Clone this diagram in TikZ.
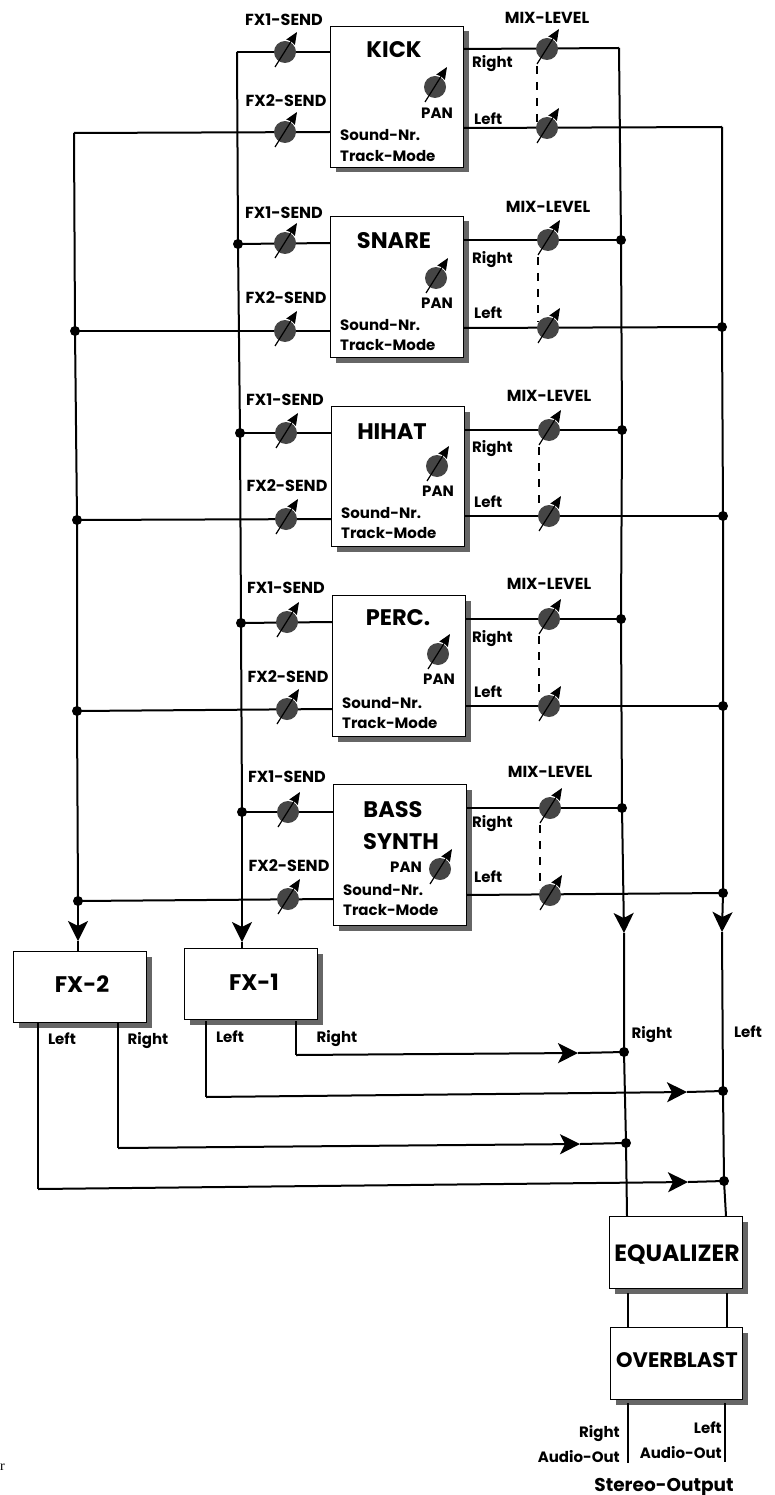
\documentclass[tikz,border=0pt]{standalone}
\usepackage{fontspec}
\setmainfont{Poppins}
\newfontfamily\stray{Liberation Serif}
\usetikzlibrary{arrows.meta,shadows}
\definecolor{knobgray}{gray}{0.27}
\tikzset{
  x=1pt,y=-1pt,
  wire/.style={line width=2pt,line join=miter},
  flow/.style={wire,-{Stealth[length=20pt,width=20pt,inset=5pt]}},
  box/.style={draw=black,line width=1pt,fill=white,anchor=north west,inner sep=0pt,
    drop shadow={shadow xshift=5pt,shadow yshift=-5pt,fill=black!60,opacity=1}},
  dot/.style={circle,fill=black,inner sep=0pt,minimum size=10pt},
  knob/.style={circle,fill=knobgray,inner sep=0pt,minimum size=22pt},
  pointer/.style={line width=1.2pt,-{Stealth[length=12pt,width=10pt,inset=1pt]}},
  lab/.style={inner sep=0pt,font=\bfseries\fontsize{16}{16}\selectfont},
  small/.style={inner sep=0pt,font=\bfseries\fontsize{15}{15}\selectfont},
  title/.style={inner sep=0pt,font=\bfseries\fontsize{22.5}{22.5}\selectfont},
}
\newcommand{\knobat}[3]{%
  \node[knob] (#1) at (#2,#3) {};
  \draw[pointer] (#2-10,#3+15) -- (#2+12,#3-20);
}
\begin{document}
\begin{tikzpicture}
\useasboundingbox (0,0) rectangle (775,1495);
\fill[white] (0,0) rectangle (775,1495);

% bus coordinates
\coordinate (bA1) at (237,52); \coordinate (bB1) at (74,133); \coordinate (bR1) at (619,48); \coordinate (bL1) at (722,127);
\coordinate (bA2) at (238,244); \coordinate (bB2) at (75,331); \coordinate (bR2) at (621,240); \coordinate (bL2) at (722,327);
\coordinate (bA3) at (240,433); \coordinate (bB3) at (77,520); \coordinate (bR3) at (622,430); \coordinate (bL3) at (723,516);
\coordinate (bA4) at (241,623); \coordinate (bB4) at (77,711); \coordinate (bR4) at (621,619); \coordinate (bL4) at (723,706);
\coordinate (bA5) at (242,812); \coordinate (bB5) at (78,901); \coordinate (bR5) at (622,808); \coordinate (bL5) at (723,893);
\coordinate (arrA) at (242,942);
\coordinate (arrB) at (78,941);
\coordinate (arrR) at (624,933);
\coordinate (arrL) at (722,932);

% channels
\foreach \i/\bx/\bt/\bh/\fa/\fb/\ra/\la/\ttl/\tx/\tty/\fxx/\mx/\kx/\ky/\px/\py/\sx/\sy/\ty/\lfa/\lfb/\lm/\lr/\ll in {
  1/330/26/141/52/132/49/128/KICK/394/50/285/547/435/87/437/113/340/135/156/20/101/18/63.5/119,
  2/330/216/141/243/331/240/328/SNARE/394/241/285/548/436/278/437/303/340/325/345/213/298/207/259.5/313,
  3/331/406/140/433/519/430/516/HIHAT/392/432/286/549/437/466/438/491/341/513/533/400/486/396/448.5/502,
  4/332/595/141/622/709/619/706/PERC./398/618/287/549/438/654/439/679/342/703/723/588/677/584/638.5/692,
  5/333/784/141/812/899/808/895/{}/393/810/288/550/440/869/406/867/343/890/910/777/866/772/823.5/877}{
  \node[box,minimum width=133pt,minimum height=\bh pt] (ch\i) at (\bx,\bt) {};
  \draw[wire] (bA\i) -- (\bx,\fa);
  \draw[wire] (bB\i) -- (\bx,\fb);
  \draw[wire] (\bx+133,\ra) -- (bR\i);
  \draw[wire] (\bx+133,\la) -- (bL\i);
  \knobat{fxa\i}{\fxx}{\fa}
  \knobat{fxb\i}{\fxx}{\fb}
  \knobat{mr\i}{\mx}{\ra}
  \knobat{ml\i}{\mx}{\la}
  \draw[line width=1.2pt,dash pattern=on 8pt off 8pt] (\mx-10,\ra+17) -- (\mx-10,\la-6);
  \knobat{pan\i}{\kx}{\ky}
  \node[lab] (lfa\i) at (\fxx-1,\lfa) {FX1-SEND};
  \node[lab] (lfb\i) at (\fxx+1,\lfb) {FX2-SEND};
  \node[lab] (lmx\i) at (\mx,\lm) {MIX-LEVEL};
  \node[small,anchor=west] (lr\i) at (472,\lr) {Right};
  \node[small,anchor=west] (ll\i) at (474,\ll) {Left};
  \node[small] (lp\i) at (\px,\py) {PAN};
  \node[small,anchor=west] (ls\i) at (\sx,\sy) {Sound-Nr.};
  \node[small,anchor=west] (lt\i) at (\sx,\ty) {Track-Mode};
  \node[title] (tt\i) at (\tx,\tty) {\ttl};
}
\node[title] (bass) at (393,810) {BASS};
\node[title] (synth) at (401,842) {SYNTH};

% FX boxes
\node[box,minimum width=133pt,minimum height=71pt] (fx2) at (13,951) {};
\node[box,minimum width=133pt,minimum height=71pt] (fx1) at (184,948) {};
\node[title] (fx2t) at (82,984) {FX-2};
\node[title] (fx1t) at (254,982) {FX-1};
% equalizer chain
\node[box,minimum width=133pt,minimum height=72pt] (eq) at (609,1216) {};
\node[box,minimum width=132pt,minimum height=72pt] (ob) at (610,1327) {};
\node[inner sep=0pt,font=\bfseries\fontsize{23.5}{24}\selectfont] (eqt) at (677,1255) {EQUALIZER};
\node[inner sep=0pt,font=\bfseries\fontsize{21}{21}\selectfont] (obt) at (677,1360) {OVERBLAST};

% buses
\draw[wire] (bA1) -- (bA2) -- (bA3) -- (bA4) -- (bA5);
\draw[wire] (bB1) -- (bB2) -- (bB3) -- (bB4) -- (bB5);
\draw[wire] (bR1) -- (bR2) -- (bR3) -- (bR4) -- (bR5);
\draw[wire] (bL1) -- (bL2) -- (bL3) -- (bL4) -- (bL5);
\draw[flow] (bA5) -- (arrA); \draw[wire] (arrA) -- (arrA |- fx1.north);
\draw[flow] (bB5) -- (arrB); \draw[wire] (arrB) -- (arrB |- fx2.north);
\draw[flow] (bR5) -- (arrR);
\draw[flow] (bL5) -- (arrL);
\coordinate (jR1) at (624,1052);
\coordinate (jL1) at (723,1091);
\coordinate (jR2) at (626,1143);
\coordinate (jL2) at (724,1181);
\coordinate (eR) at (627,1216);
\coordinate (eL) at (726,1216);
\draw[wire] (arrR) -- (jR1) -- (jR2) -- (eR);
\draw[wire] (arrL) -- (jL1) -- (jL2) -- (eL);
\foreach \n in {A2,A3,A4,A5,B2,B3,B4,B5,R2,R3,R4,R5,L2,L3,L4,L5}{\node[dot] at (b\n) {};}
\foreach \n in {R1,L1,R2,L2}{\node[dot] at (j\n) {};}

% FX returns
\coordinate (a1) at (296,1055); \coordinate (m1) at (578,1053);
\draw[wire] (296,1021) -- (a1); \draw[flow] (a1) -- (m1); \draw[wire] (m1) -- (jR1);
\coordinate (a2) at (206,1097); \coordinate (m2) at (687,1092);
\draw[wire] (206,1021) -- (a2); \draw[flow] (a2) -- (m2); \draw[wire] (m2) -- (jL1);
\coordinate (a3) at (118,1148); \coordinate (m3) at (580,1144);
\draw[wire] (118,1023) -- (a3); \draw[flow] (a3) -- (m3); \draw[wire] (m3) -- (jR2);
\coordinate (a4) at (38,1189); \coordinate (m4) at (688,1182);
\draw[wire] (38,1023) -- (a4); \draw[flow] (a4) -- (m4); \draw[wire] (m4) -- (jL2);

% output chain
\draw[wire] (628,1293) -- (628,1327);
\draw[wire] (727,1293) -- (727,1327);
\draw[wire] (628,1403) -- (628,1463);
\draw[wire] (725,1403) -- (725,1462);

% labels
\node[small] (l1) at (62,1039) {Left};
\node[small] (l2) at (148,1040.5) {Right};
\node[small] (l3) at (230,1037) {Left};
\node[small] (l4) at (337,1038.5) {Right};
\node[small] (l5) at (652,1034.5) {Right};
\node[small] (l6) at (748,1032) {Left};
\node[small,anchor=east] (l7) at (620,1433.5) {Right};
\node[small,anchor=east] (l8) at (620,1457) {Audio-Out};
\node[small,anchor=east] (l9) at (722,1428) {Left};
\node[small,anchor=east] (l10) at (722,1453) {Audio-Out};
\node[inner sep=0pt,font=\bfseries\fontsize{18.5}{19}\selectfont] (l11) at (664,1487) {Stereo-Output};
\node[inner sep=0pt,anchor=west,font=\stray\fontsize{14}{14}\selectfont] (l12) at (0,1467) {r};
\end{tikzpicture}
\end{document}
